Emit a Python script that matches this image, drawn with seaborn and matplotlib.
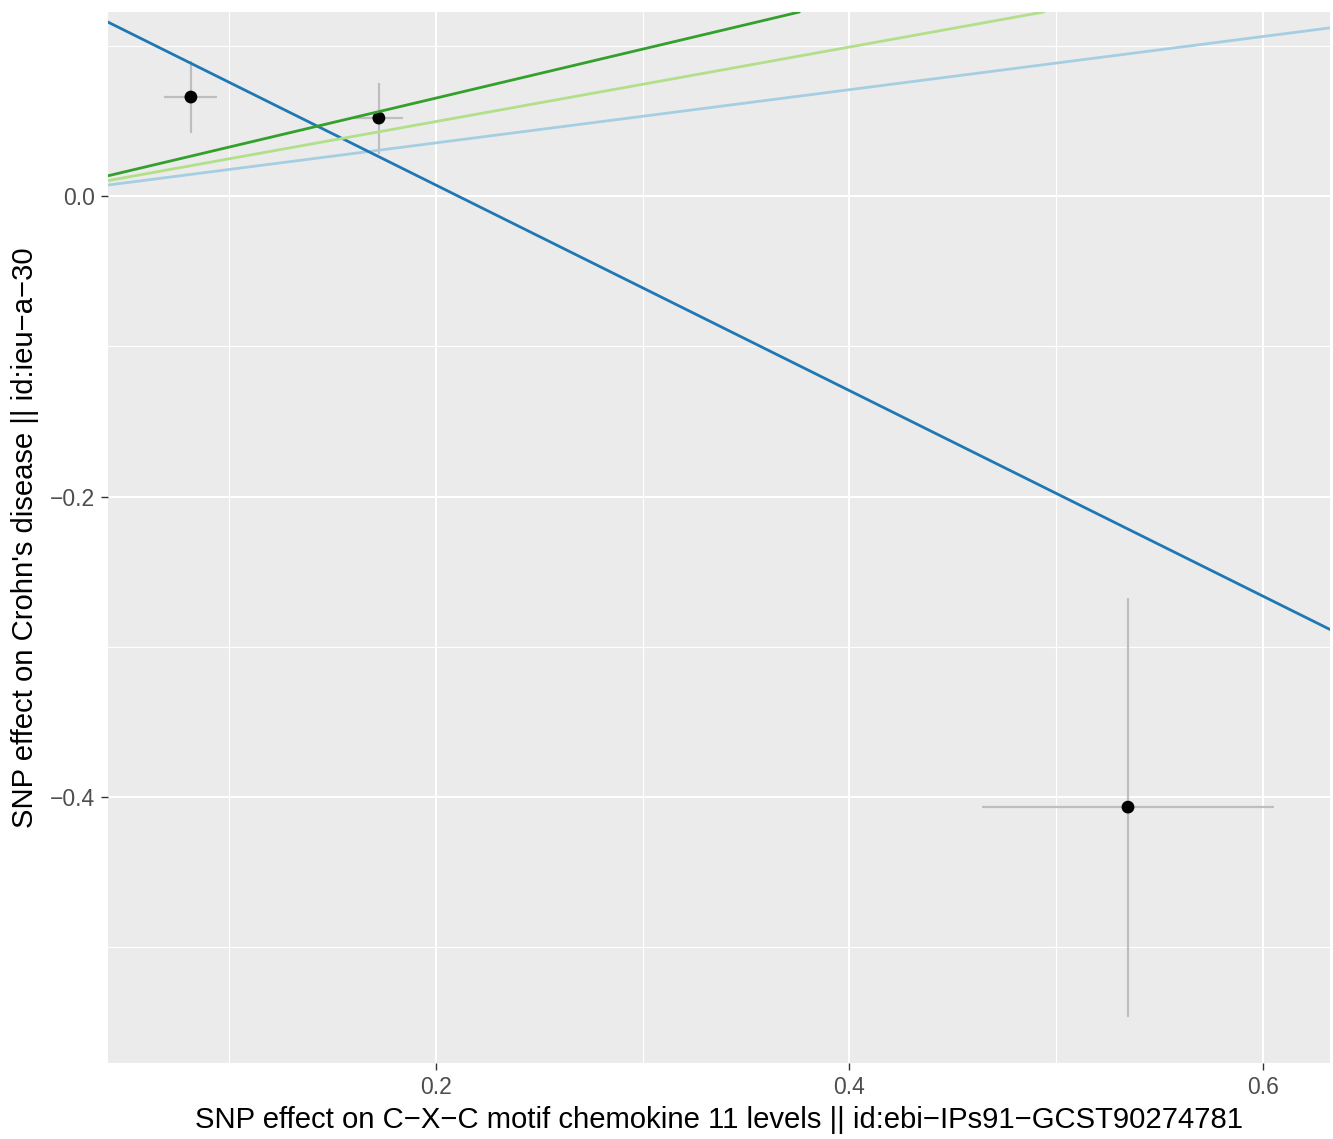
import numpy as np
import pandas as pd
import matplotlib
matplotlib.use("Agg")
import matplotlib.pyplot as plt
import seaborn as sns
from matplotlib.ticker import FuncFormatter

# SNP-level estimates (exposure / outcome betas and their SEs)
beta_exposure = [0.0815, 0.1724, 0.5347]
se_exposure = [0.0128, 0.0119, 0.0706]
beta_outcome = [0.0659, 0.0519, -0.4067]
se_outcome = [0.0240, 0.0236, 0.1394]

# MR method fits
methods = ["Inverse variance weighted", "MR Egger", "Weighted median", "Weighted mode"]
method_slope = [0.177, -0.684, 0.248, 0.326]
method_intercept = [0.0, 0.1441, 0.0, 0.0]
method_colors = ["#A6CEE3", "#1F78B4", "#B2DF8A", "#33A02C"]

x_ticks = [0.2, 0.4, 0.6]
x_minor = [0.1, 0.3, 0.5]
y_ticks = [-0.4, -0.2, 0.0]
y_minor = [-0.5, -0.3, -0.1, 0.1]

x_label = "SNP effect on C\u2212X\u2212C motif chemokine 11 levels || id:ebi\u2212IPs91\u2212GCST90274781"
y_label = "SNP effect on Crohn's disease || id:ieu\u2212a\u221230"

df = pd.DataFrame({
    "beta_exposure": beta_exposure,
    "beta_outcome": beta_outcome,
    "se_exposure": se_exposure,
    "se_outcome": se_outcome,
})

sns.set_theme(style="darkgrid", rc={
    "axes.facecolor": "#EBEBEB",
    "grid.color": "white",
})
plt.rcParams["font.family"] = ["Liberation Sans", "DejaVu Sans"]

W, H = 1333, 1139
fig = plt.figure(figsize=(W / 100, H / 100), dpi=100)
L, R, T, B = 108, 1330, 12, 1063
ax = fig.add_axes([L / W, 1 - B / H, (R - L) / W, (B - T) / H])

# error bars
ax.errorbar(df["beta_exposure"], df["beta_outcome"], yerr=df["se_outcome"],
            fmt="none", ecolor="#BEBEBE", elinewidth=1.6, capsize=0, zorder=2)
ax.errorbar(df["beta_exposure"], df["beta_outcome"], xerr=df["se_exposure"],
            fmt="none", ecolor="#BEBEBE", elinewidth=1.6, capsize=0, zorder=2)

sns.scatterplot(data=df, x="beta_exposure", y="beta_outcome", ax=ax,
                color="black", s=85, edgecolor="none", zorder=3, legend=False)

for m, b, a, c in zip(methods, method_slope, method_intercept, method_colors):
    ax.axline((0, a), slope=b, color=c, lw=2.0, zorder=4, label=m)

ax.set_xlim(0.0414, 0.6324)
ax.set_ylim(-0.577, 0.1225)

ax.set_xticks(x_ticks)
ax.set_xticks(x_minor, minor=True)
ax.set_yticks(y_ticks)
ax.set_yticks(y_minor, minor=True)
fmt = FuncFormatter(lambda v, p: f"{v:.1f}".replace("-", "\u2212"))
ax.xaxis.set_major_formatter(fmt)
ax.yaxis.set_major_formatter(fmt)

ax.grid(which="major", color="white", lw=1.5)
ax.grid(which="minor", color="white", lw=0.8)
ax.set_axisbelow(True)
for s in ax.spines.values():
    s.set_visible(False)

ax.tick_params(axis="both", which="major", length=5.3, width=1.0, color="#333333",
               labelcolor="#4D4D4D", labelsize=16.5, pad=4, bottom=True, left=True)
ax.tick_params(axis="both", which="minor", length=0)

ax.set_xlabel(x_label, fontsize=21.1, color="black", va="center", ha="center")
ax.set_ylabel(y_label, fontsize=21.1, color="black", va="center", ha="center")
ax.xaxis.set_label_coords(0.5, -(1120 - B) / (B - T))
ax.yaxis.set_label_coords(-(L - 25) / (R - L), 0.5)

fig.savefig("out.png", dpi=100)
